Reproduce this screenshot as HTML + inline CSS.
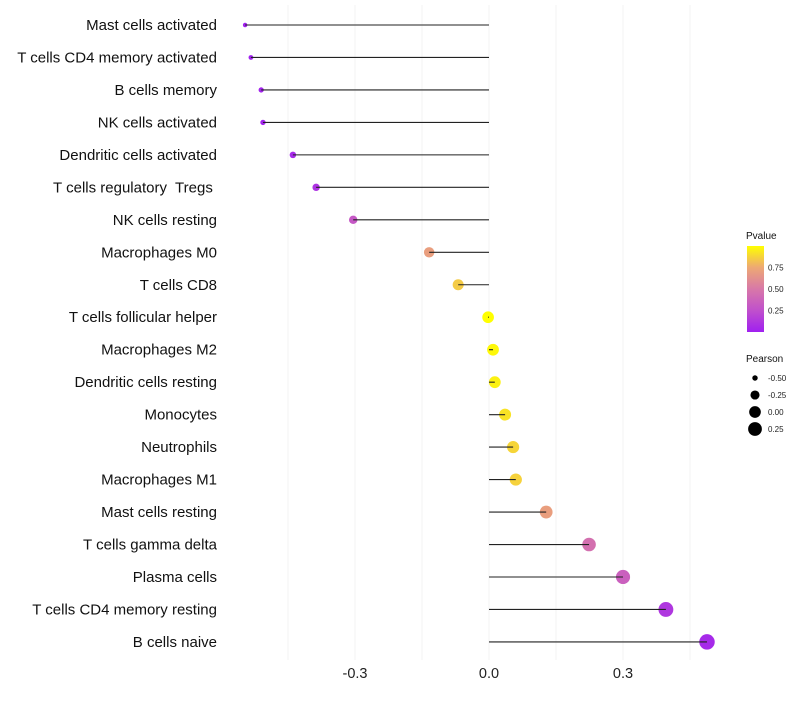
<!DOCTYPE html>
<html><head><meta charset="utf-8"><style>
body{margin:0;background:#fff;}
svg text{font-family:"Liberation Sans",sans-serif;white-space:pre;}
</style></head><body>
<svg id="chart" width="800" height="700" xmlns="http://www.w3.org/2000/svg">
<defs><linearGradient id="pg" x1="0" y1="1" x2="0" y2="0">
<stop offset="0" stop-color="#a020f0"/><stop offset="0.25" stop-color="#c050cc"/><stop offset="0.5" stop-color="#d878a8"/><stop offset="0.75" stop-color="#eda874"/><stop offset="1" stop-color="#ffff00"/></linearGradient></defs>
<g id="grid"></g><g id="marks"></g><g id="labels"></g><g id="legend"></g>
</svg>
<script>
const categories=["Mast cells activated","T cells CD4 memory activated","B cells memory","NK cells activated","Dendritic cells activated","T cells regulatory  Tregs ","NK cells resting","Macrophages M0","T cells CD8","T cells follicular helper","Macrophages M2","Dendritic cells resting","Monocytes","Neutrophils","Macrophages M1","Mast cells resting","T cells gamma delta","Plasma cells","T cells CD4 memory resting","B cells naive"];
const pearson=[-0.546,-0.533,-0.51,-0.506,-0.439,-0.387,-0.304,-0.134,-0.069,-0.002,0.009,0.013,0.036,0.054,0.06,0.128,0.224,0.3,0.396,0.488];
const pvalue=[0.01,0.01,0.02,0.02,0.05,0.1,0.3,0.7,0.85,1.0,0.98,0.96,0.92,0.88,0.87,0.7,0.45,0.35,0.12,0.05];
const xTicks=[-0.3,0,0.3];
const xTickLabels=["-0.3","0.0","0.3"];
const gridVals=[-0.45,-0.3,-0.15,0,0.15,0.3,0.45];
const colorTicks=[0.25,0.5,0.75];
const sizeLegend=[-0.5,-0.25,0,0.25];

const NS="http://www.w3.org/2000/svg";
const xs=v=>489+v*446.7;
const ys=i=>25+i*32.47;
const rs=v=>Math.sqrt(Math.max(1,5+(v+0.546)/1.034*55));
const stops=[[0,[160,32,240]],[0.25,[192,80,204]],[0.5,[216,120,168]],[0.75,[237,168,116]],[1,[255,255,0]]];
function col(p){for(let k=1;k<stops.length;k++){if(p<=stops[k][0]){const a=stops[k-1],b=stops[k];const t=(p-a[0])/(b[0]-a[0]);const c=a[1].map((x,j)=>Math.round(x+(b[1][j]-x)*t));return `rgb(${c})`;}}return "rgb(255,255,0)";}
function mk(tag,attrs,parent){const e=document.createElementNS(NS,tag);for(const k in attrs)e.setAttribute(k,attrs[k]);document.getElementById(parent).appendChild(e);return e;}
gridVals.forEach(v=>{const l=mk("line",{x1:xs(v),x2:xs(v),y1:5,y2:660,stroke:"#f3f3f3","stroke-width":1},"grid");

});
xTicks.forEach((v,i)=>{const t=mk("text",{x:xs(v),y:678,"text-anchor":"middle","font-size":14.5,fill:"#222"},"labels");t.textContent=xTickLabels[i];

});
categories.forEach((c,i)=>{const y=ys(i);
const t=mk("text",{x:217,y:y+5,"text-anchor":"end","font-size":15,fill:"#111"},"labels");t.textContent=c;


const p=mk("circle",{cx:xs(pearson[i]),cy:y,r:rs(pearson[i]),fill:col(pvalue[i])},"marks");


const l=mk("line",{x1:xs(0),x2:xs(pearson[i]),y1:y,y2:y,stroke:"#222","stroke-width":1.1},"marks");

});
const lt=mk("text",{x:746,y:239,"font-size":10,fill:"#111"},"legend");lt.textContent="Pvalue";


const cb=mk("rect",{x:747,y:246,width:17,height:86,fill:"url(#pg)"},"legend");


colorTicks.forEach(v=>{const y=332-v*86;
const t=mk("text",{x:768,y:y+3,"font-size":8,fill:"#222"},"legend");t.textContent=v.toFixed(2);

});
const st=mk("text",{x:746,y:362,"font-size":10,fill:"#111"},"legend");st.textContent="Pearson";


sizeLegend.forEach((v,i)=>{const y=378+i*17;
const c=mk("circle",{cx:755,cy:y,r:rs(v),fill:"#000"},"legend");


const t=mk("text",{x:768,y:y+3,"font-size":8,fill:"#222"},"legend");t.textContent=v.toFixed(2);

});
</script>
</body></html>
